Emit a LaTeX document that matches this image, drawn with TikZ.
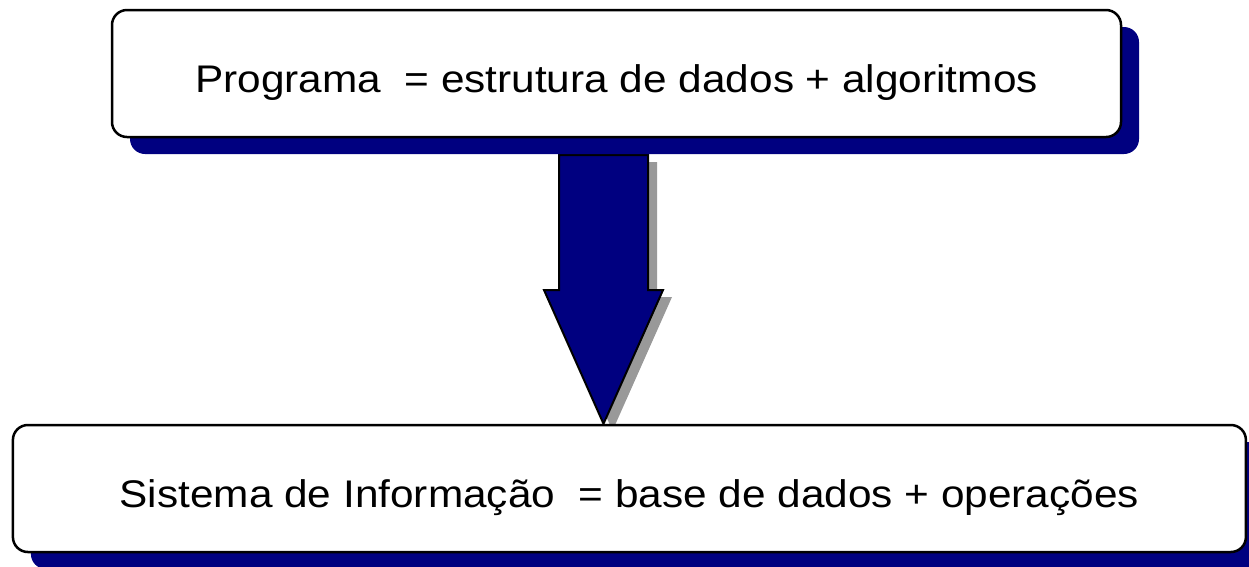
\documentclass[tikz,border=0pt]{standalone}
\usepackage{fontspec}
\setmainfont{Liberation Sans}
\newfontfamily\boxfont[FakeStretch=1.1]{Liberation Sans}
\usetikzlibrary{shadows,calc,backgrounds}
\definecolor{navyFill}{HTML}{000080}
\definecolor{grayShadow}{HTML}{999999}
\tikzset{box/.style={black,draw=black,fill=white,rectangle,line width=2.5pt,rounded corners=15pt,minimum height=127pt,text height=46pt,text depth=8pt,font=\boxfont\fontsize{38.5}{44}\selectfont,drop shadow={shadow xshift=18pt,shadow yshift=-17pt,fill=navyFill,opacity=1}}}
\tikzset{bigArrow/.style={draw=black,fill=navyFill,line width=2pt,line join=miter,drop shadow={shadow xshift=9pt,shadow yshift=-7pt,fill=grayShadow,opacity=1}}}

\begin{document}
\begin{tikzpicture}[x=1pt,y=-1pt]
                \useasboundingbox (0,0) rectangle (1249,566);
                \clip (0,0) rectangle (1249,566);
                \node[box,minimum width=1009pt] (prog) at (616.5,73.5) {Programa\ \ = estrutura de dados + algoritmos};
                \node[box,minimum width=1233pt] (info) at (629.4,488.5) {Sistema de Informação\ \ = base de dados + operações};
                \coordinate (arrowTop) at (603.5,155);
                \coordinate (arrowTip) at (arrowTop |- info.north);
                \begin{scope}[on background layer]
                \draw[bigArrow] ($(arrowTop)+(-44.5,0)$) -- ($(arrowTop)+(44.5,0)$) -- ($(arrowTop)+(44.5,135)$) -- ($(arrowTop)+(59.5,135)$) -- (arrowTip) -- ($(arrowTop)+(-59.5,135)$) -- ($(arrowTop)+(-44.5,135)$) -- cycle;
                \end{scope}
\end{tikzpicture}
\end{document}
